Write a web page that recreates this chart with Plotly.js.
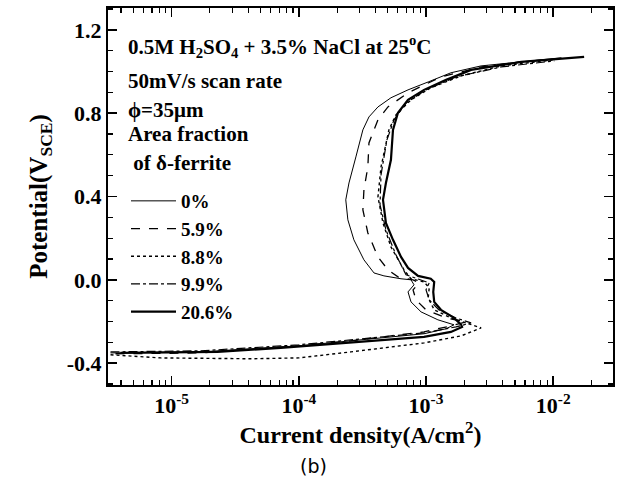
<!DOCTYPE html>
<html><head><meta charset="utf-8">
<script src="https://cdn.plot.ly/plotly-3.0.1.min.js"></script>
<style>body{margin:0;background:#fff}#c{width:626px;height:501px}</style>
</head><body><div id="c"></div>
<script>
// Series names
const seriesNames = ["0%", "5.9%", "8.8%", "9.9%", "20.6%"];
// Current density (A/cm2) and potential (V vs SCE) for each series
const i0 = [3.31e-6,1.69e-5,1.0e-4,2.57e-4,5.30e-4,9.65e-4,1.44e-3,1.66e-3,1.24e-3,9.14e-4,7.62e-4,7.22e-4,8.05e-4,7.62e-4,6.36e-4,4.67e-4,3.90e-4,3.25e-4,2.71e-4,2.43e-4,2.34e-4,2.48e-4,2.81e-4,3.19e-4,3.56e-4,4.19e-4,5.30e-4,7.22e-4,1.04e-3,1.57e-3,2.71e-3,5.60e-3,1.16e-2];
const v0 = [-0.351,-0.346,-0.317,-0.293,-0.274,-0.259,-0.235,-0.216,-0.192,-0.154,-0.106,-0.058,-0.024,0.000,0.005,0.019,0.033,0.096,0.192,0.288,0.384,0.465,0.590,0.720,0.782,0.830,0.874,0.912,0.950,0.994,1.027,1.046,1.066];
const i59 = [3.62e-6,1.69e-5,1.0e-4,2.57e-4,5.30e-4,9.65e-4,1.57e-3,2.07e-3,1.44e-3,1.0e-3,8.33e-4,7.91e-4,8.81e-4,7.91e-4,6.02e-4,5.02e-4,4.19e-4,3.49e-4,3.19e-4,3.25e-4,3.49e-4,3.56e-4,3.90e-4,4.19e-4,5.02e-4,7.22e-4,1.31e-3,2.71e-3,5.60e-3,1.06e-2];
const v59 = [-0.355,-0.351,-0.317,-0.293,-0.269,-0.250,-0.221,-0.202,-0.183,-0.144,-0.096,-0.048,-0.015,0.000,0.014,0.048,0.110,0.225,0.336,0.432,0.542,0.657,0.720,0.768,0.830,0.898,0.974,1.022,1.046,1.061];
const i88 = [3.31e-6,8.2e-6,4.19e-5,1.0e-4,2.57e-4,5.30e-4,9.65e-4,1.89e-3,2.71e-3,1.57e-3,1.16e-3,1.04e-3,1.06e-3,9.65e-4,7.62e-4,6.71e-4,5.30e-4,4.59e-4,4.19e-4,4.43e-4,5.11e-4,5.80e-4,7.62e-4,1.09e-3,1.89e-3,3.90e-3,1.02e-2];
const v88 = [-0.360,-0.375,-0.379,-0.375,-0.346,-0.322,-0.303,-0.269,-0.231,-0.183,-0.144,-0.087,-0.039,-0.010,0.005,0.048,0.158,0.273,0.398,0.542,0.720,0.792,0.864,0.922,0.979,1.027,1.056];
const i99 = [3.31e-6,1.69e-5,1.0e-4,2.57e-4,5.30e-4,9.65e-4,1.72e-3,2.26e-3,1.72e-3,1.26e-3,1.06e-3,1.0e-3,1.06e-3,9.14e-4,6.97e-4,5.80e-4,4.84e-4,4.35e-4,4.43e-4,4.93e-4,5.60e-4,6.97e-4,1.0e-3,1.72e-3,3.90e-3,1.02e-2];
const v99 = [-0.346,-0.341,-0.312,-0.288,-0.269,-0.255,-0.226,-0.207,-0.183,-0.144,-0.096,-0.048,-0.015,0.000,0.024,0.120,0.240,0.360,0.504,0.672,0.768,0.849,0.912,0.974,1.022,1.051];
const i206 = [3.96e-6,2.30e-5,7.21e-5,2.43e-4,5.30e-4,9.65e-4,1.57e-3,1.92e-3,1.89e-3,1.66e-3,1.31e-3,1.16e-3,1.14e-3,1.16e-3,1.09e-3,8.66e-4,7.22e-4,6.36e-4,5.50e-4,4.84e-4,4.59e-4,4.84e-4,5.30e-4,5.50e-4,6.02e-4,7.22e-4,9.65e-4,1.44e-3,2.26e-3,5.60e-3,1.75e-2];
const v206 = [-0.351,-0.346,-0.327,-0.303,-0.288,-0.274,-0.250,-0.226,-0.216,-0.183,-0.144,-0.106,-0.058,-0.010,0.005,0.019,0.057,0.110,0.192,0.273,0.384,0.465,0.576,0.720,0.802,0.864,0.912,0.960,1.008,1.046,1.070];
// Axis ticks
const xTickVals = [1e-5, 1e-4, 1e-3, 1e-2];
const xTickText = ["10<sup>-5</sup>", "10<sup>-4</sup>", "10<sup>-3</sup>", "10<sup>-2</sup>"];
const xMinorVals = [4e-6,5e-6,6e-6,7e-6,8e-6,9e-6,2e-5,3e-5,4e-5,5e-5,6e-5,7e-5,8e-5,9e-5,2e-4,3e-4,4e-4,5e-4,6e-4,7e-4,8e-4,9e-4,2e-3,3e-3,4e-3,5e-3,6e-3,7e-3,8e-3,9e-3,2e-2];
const yTickVals = [-0.4, 0.0, 0.4, 0.8, 1.2];
const yTickText = ["-0.4", "0.0", "0.4", "0.8", "1.2"];
const yMinorVals = [-0.5,-0.3,-0.2,-0.1,0.1,0.2,0.3,0.5,0.6,0.7,0.9,1.0,1.1,1.3];
const infoLines = ["0.5M H<sub>2</sub>SO<sub>4</sub> + 3.5% NaCl at 25<sup>o</sup>C", "50mV/s scan rate", "\u03d5=35\u03bcm", "Area fraction", " of \u03b4-ferrite"];

const F = "Liberation Serif, Times New Roman, serif";
const X_RANGE = [-5.5, -1.53];
const Y_RANGE = [-0.505, 1.305];
const xs = [i0, i59, i88, i99, i206];
const ys = [v0, v59, v88, v99, v206];
const styles = [
  {dash: "solid", width: 1},
  {dash: "dash", width: 1.3},
  {dash: "dot", width: 1.4},
  {dash: "dashdot", width: 1.2},
  {dash: "solid", width: 2.2}
];
const traces = seriesNames.map((n, k) => ({
  type: "scatter", mode: "lines", name: n, x: xs[k], y: ys[k],
  legendgroup: "g" + k,
  line: {color: "#000", dash: styles[k].dash, width: styles[k].width}
}));
// empty trace that only carries the minor-tick axes
traces.push({type: "scatter", mode: "lines", x: [], y: [], xaxis: "x2", yaxis: "y2", showlegend: false, hoverinfo: "skip"});

const infoY = [46, 81, 110, 134, 163];
const annotations = infoLines.map((t, k) => ({
  text: "<b>" + t + "</b>", xref: "paper", yref: "paper",
  x: (126 - 108) / 505, y: 1 - (infoY[k] - 8) / 377,
  xanchor: "left", yanchor: "middle", showarrow: false,
  font: {family: F, size: 21, color: "#000"}
}));
annotations.push({
  text: "(b)", xref: "paper", yref: "paper", x: (313 - 108) / 505, y: 1 - (466 - 8) / 377,
  xanchor: "center", yanchor: "middle", showarrow: false,
  font: {family: "DejaVu Sans, sans-serif", size: 19, color: "#000"}
});

const layout = {
  width: 626, height: 501,
  margin: {l: 108, r: 13, t: 8, b: 116},
  paper_bgcolor: "#fff", plot_bgcolor: "#fff",
  showlegend: true,
  legend: {
    x: (126 - 108) / 505, y: 1 - (182 - 8) / 377, xanchor: "left", yanchor: "top",
    bgcolor: "rgba(0,0,0,0)", tracegroupgap: 0, itemwidth: 45,
    font: {family: F, size: 19, color: "#000", weight: "bold"}
  },
  xaxis: {
    type: "log", range: X_RANGE,
    tickvals: xTickVals, ticktext: xTickText,
    ticks: "inside", ticklen: 9, tickwidth: 1.5, tickcolor: "#000",
    showline: true, linewidth: 2, linecolor: "#000", mirror: "allticks",
    showgrid: false, zeroline: false,
    tickfont: {family: F, size: 22, color: "#000", weight: "bold"},
    title: {text: "<b>Current density(A/cm<sup>2</sup>)</b>", font: {family: F, size: 24, color: "#000"}, standoff: 6}
  },
  xaxis2: {
    type: "log", range: X_RANGE, overlaying: "x", anchor: "y", side: "bottom",
    tickmode: "array", tickvals: xMinorVals, ticks: "inside", ticklen: 5, tickwidth: 1.2, tickcolor: "#000",
    showticklabels: false, showline: false, mirror: "allticks", showgrid: false, zeroline: false
  },
  yaxis: {
    range: Y_RANGE,
    tickvals: yTickVals, ticktext: yTickText,
    ticks: "inside", ticklen: 9, tickwidth: 1.5, tickcolor: "#000",
    showline: true, linewidth: 2, linecolor: "#000", mirror: "allticks",
    showgrid: false, zeroline: false,
    tickfont: {family: F, size: 22, color: "#000", weight: "bold"},
    title: {text: "<b>Potential(V<sub>SCE</sub>)</b>", font: {family: F, size: 25, color: "#000"}, standoff: 12}
  },
  yaxis2: {
    range: Y_RANGE, overlaying: "y", anchor: "x", side: "left",
    tickmode: "array", tickvals: yMinorVals, ticks: "inside", ticklen: 5, tickwidth: 1.2, tickcolor: "#000",
    showticklabels: false, showline: false, mirror: "allticks", showgrid: false, zeroline: false
  },
  annotations: annotations
};
Plotly.newPlot("c", traces, layout, {staticPlot: true, displayModeBar: false});
</script>
</body></html>
